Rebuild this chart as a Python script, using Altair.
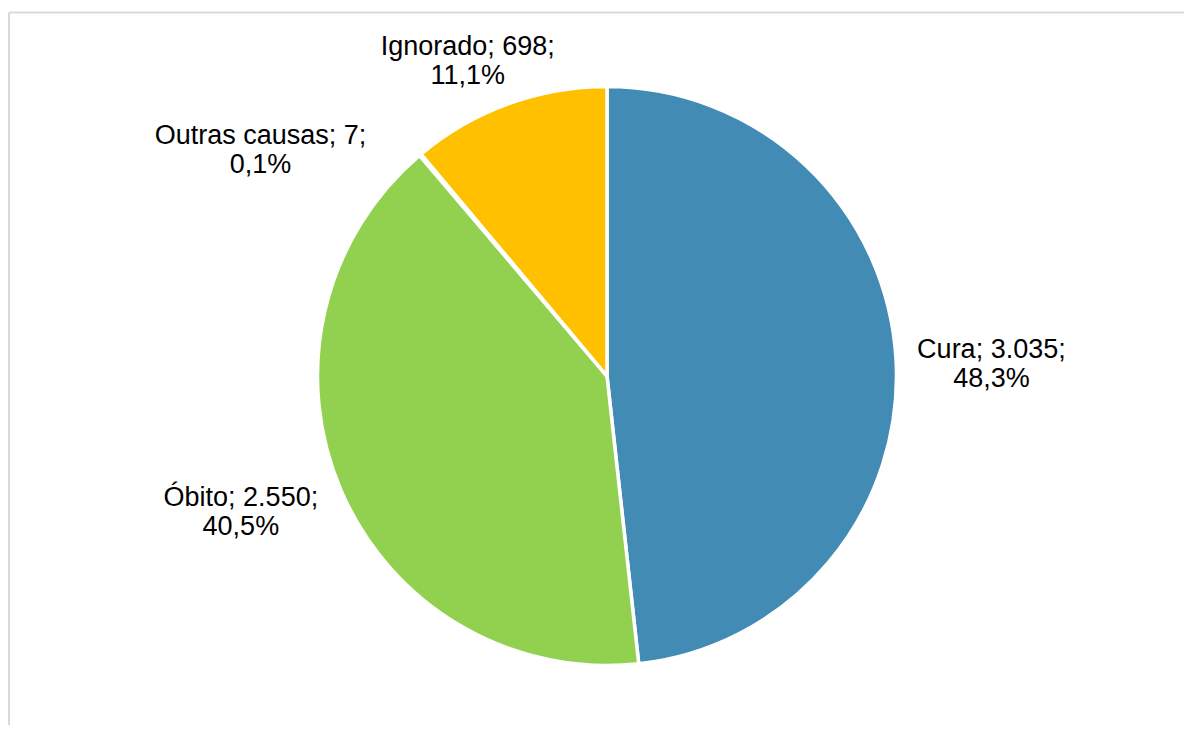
import altair as alt
import pandas as pd

categories = ["Cura", "Óbito", "Outras causas", "Ignorado"]
counts = [3035, 2550, 7, 698]
count_labels = ["3.035", "2.550", "7", "698"]
pct_labels = ["48,3%", "40,5%", "0,1%", "11,1%"]
colors = ["#428BB5", "#92D050", "#A5A5A5", "#FFC000"]

df = pd.DataFrame({
    "cat": categories,
    "n": counts,
    "order": list(range(len(categories))),
    "label": [f"{c}; {n};\n{p}" for c, n, p in zip(categories, count_labels, pct_labels)],
})
TOTAL = sum(counts)

W, H = 1176, 717
CX, CY = 598, 368
R = 289.5

pie = alt.Chart(df).mark_arc(outerRadius=R, stroke="white", strokeWidth=3.5).encode(
    theta=alt.Theta("n:Q", stack=True),
    order=alt.Order("order:Q"),
    color=alt.Color("cat:N", scale=alt.Scale(domain=categories, range=colors), legend=None),
    x=alt.value(CX), y=alt.value(CY),
)

# label placement (style): category -> (dx, dy)
label_offsets = {
    "Cura": (-5, -5),
    "Óbito": (-8, -32),
    "Outras causas": (-95, 58),
    "Ignorado": (-6, 38),
}

text_base = alt.Chart(df).transform_window(
    cum="sum(n)", sort=[alt.SortField("order")], frame=[None, 0]
).transform_calculate(mid="datum.cum - datum.n / 2")

texts = []
for cat, (dx, dy) in label_offsets.items():
    texts.append(
        text_base.transform_filter(alt.datum.cat == cat).mark_text(
            radius=390, dx=dx, dy=dy, font="Liberation Sans", fontSize=27,
            lineBreak="\n", lineHeight=29, align="center", baseline="middle", color="#000000",
        ).encode(
            theta=alt.Theta("mid:Q", stack=None, scale=alt.Scale(domain=[0, TOTAL])),
            text="label:N", x=alt.value(CX), y=alt.value(CY),
        )
    )

frame_df = pd.DataFrame({"a": [0]})
top_rule = alt.Chart(frame_df).mark_rule(color="#D9D9D9", strokeWidth=2).encode(
    x=alt.value(0), x2=alt.value(W), y=alt.value(4.5)
)
left_rule = alt.Chart(frame_df).mark_rule(color="#D9D9D9", strokeWidth=2).encode(
    x=alt.value(0), y=alt.value(4.5), y2=alt.value(H)
)

chart = alt.layer(top_rule, left_rule, pie, *texts).properties(
    width=W, height=H, padding=0,
    autosize=alt.AutoSizeParams(type="fit", contains="padding"),
).resolve_scale(theta="independent").configure_view(stroke=None)

chart.save("out.html", embed_options={"renderer": "svg", "actions": False})
